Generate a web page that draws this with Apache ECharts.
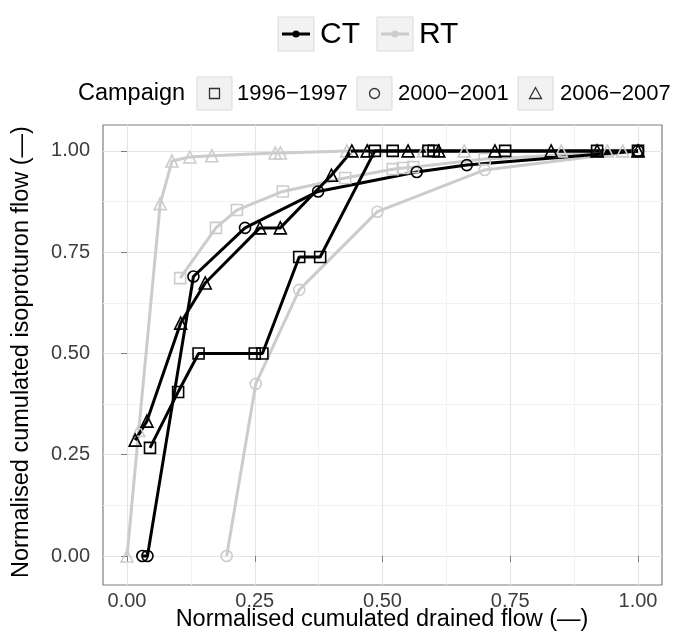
<!DOCTYPE html>
<html>
<head>
<meta charset="utf-8">
<script src="https://cdn.jsdelivr.net/npm/echarts@6/dist/echarts.min.js"></script>
<style>html,body{margin:0;padding:0;background:#fff}#c{width:675px;height:635px}</style>
</head>
<body>
<div id="c"></div>
<script>
// ---- data ----
var xTicks = [0, 0.25, 0.5, 0.75, 1];
var yTicks = [0, 0.25, 0.5, 0.75, 1];
var xTickLabels = ['0.00', '0.25', '0.50', '0.75', '1.00'];
var yTickLabels = ['0.00', '0.25', '0.50', '0.75', '1.00'];
var minorTicks = [0.125, 0.375, 0.625, 0.875];
var campaigns = ['1996\u22121997', '2000\u22122001', '2006\u22122007'];
var treatments = ['CT', 'RT'];

var ct1996X = [0.045, 0.10, 0.14, 0.25, 0.265, 0.337, 0.378, 0.485, 0.52, 0.59, 0.60, 0.74, 0.92, 1.0];
var ct1996Y = [0.267, 0.405, 0.50, 0.50, 0.50, 0.738, 0.738, 1.0, 1.0, 1.0, 1.0, 1.0, 1.0, 1.0];
var ct2000X = [0.03, 0.04, 0.13, 0.231, 0.374, 0.567, 0.665, 1.0];
var ct2000Y = [0.0, 0.0, 0.69, 0.81, 0.90, 0.948, 0.965, 1.0];
var ct2006X = [0.016, 0.039, 0.105, 0.153, 0.26, 0.30, 0.40, 0.44, 0.47, 0.55, 0.61, 0.72, 0.83, 0.92, 1.0];
var ct2006Y = [0.286, 0.333, 0.575, 0.674, 0.81, 0.81, 0.94, 1.0, 1.0, 1.0, 1.0, 1.0, 1.0, 1.0, 1.0];

var rt1996X = [0.104, 0.174, 0.215, 0.305, 0.427, 0.52, 0.54, 0.56, 0.70, 1.0];
var rt1996Y = [0.686, 0.81, 0.854, 0.90, 0.933, 0.955, 0.958, 0.96, 0.98, 1.0];
var rt2000X = [0.195, 0.252, 0.337, 0.49, 0.70, 1.0];
var rt2000Y = [0.0, 0.425, 0.657, 0.85, 0.953, 1.0];
var rt2006X = [0.0, 0.023, 0.065, 0.088, 0.123, 0.166, 0.29, 0.30, 0.43, 0.47, 0.58, 0.66, 0.85, 0.92, 0.94, 0.97, 1.0];
var rt2006Y = [0.0, 0.31, 0.87, 0.975, 0.985, 0.988, 0.995, 0.995, 1.0, 1.0, 1.0, 1.0, 1.0, 1.0, 1.0, 1.0, 1.0];

// ---- build ----
function pairs(xs, ys) { return xs.map(function (x, i) { return [x, ys[i]]; }); }
var CT_COL = '#000000', RT_COL = '#cccccc';
var SHAPES = ['rect', 'circle', 'triangle'];
var SIZES = [11, 11, 12];
function mk(name, xs, ys, col, k) {
  return {
    type: 'line', name: name, data: pairs(xs, ys),
    symbol: SHAPES[k], symbolSize: SIZES[k], showSymbol: true,
    lineStyle: { color: col, width: 3 },
    itemStyle: { color: 'rgba(0,0,0,0)', borderColor: col, borderWidth: 1.6 },
    emphasis: { disabled: true }, animation: false, z: 3
  };
}
var series = [
  mk('RT ' + campaigns[0], rt1996X, rt1996Y, RT_COL, 0),
  mk('RT ' + campaigns[1], rt2000X, rt2000Y, RT_COL, 1),
  mk('RT ' + campaigns[2], rt2006X, rt2006Y, RT_COL, 2),
  mk('CT ' + campaigns[0], ct1996X, ct1996Y, CT_COL, 0),
  mk('CT ' + campaigns[1], ct2000X, ct2000Y, CT_COL, 1),
  mk('CT ' + campaigns[2], ct2006X, ct2006Y, CT_COL, 2)
];

var FONT = 'Liberation Sans, Arial, sans-serif';
var gridL = 103, gridT = 125, gridR = 13, gridB = 50;

function axisCommon(ticks, labels, margin) {
  return {
    type: 'value',
    axisLine: { show: false },
    axisTick: { show: true, customValues: ticks, length: 6, lineStyle: { color: '#7f7f7f', width: 1 } },
    axisLabel: {
      customValues: ticks, fontSize: 20, color: '#3d3d3d', fontFamily: FONT, margin: margin,
      formatter: function (v) { var i = ticks.indexOf(v); return i >= 0 ? labels[i] : ''; }
    },
    splitLine: { show: true, lineStyle: { color: '#e5e5e5', width: 1.2 } }
  };
}
function minorAxis() {
  return {
    type: 'value', show: true,
    axisLine: { show: false },
    axisTick: { show: false, customValues: minorTicks },
    axisLabel: { show: false, customValues: minorTicks },
    splitLine: { show: true, lineStyle: { color: '#f2f2f2', width: 1 } }
  };
}

var xa = axisCommon(xTicks, xTickLabels, 6); xa.min = -0.047; xa.max = 1.047;
var ya = axisCommon(yTicks, yTickLabels, 13); ya.min = -0.0716; ya.max = 1.064;
var xm = minorAxis(); xm.min = -0.047; xm.max = 1.047; xm.position = 'bottom';
var ym = minorAxis(); ym.min = -0.0716; ym.max = 1.064; ym.position = 'left';

var graphics = [];
// axis titles
graphics.push({ type: 'text', x: 382, y: 620, style: { text: 'Normalised cumulated drained flow (\u2014)', font: '23.5px ' + FONT, fill: '#000', align: 'center', verticalAlign: 'middle' }, z: 10 });
graphics.push({ type: 'text', x: 22, y: 352, rotation: Math.PI / 2, style: { text: 'Normalised cumulated isoproturon flow (\u2014)', font: '23.5px ' + FONT, fill: '#000', align: 'center', verticalAlign: 'middle' }, z: 10 });

// legend row 1: treatment
var row1 = [{ x: 278, tx: 320, col: CT_COL }, { x: 377, tx: 419, col: RT_COL }];
row1.forEach(function (r, i) {
  graphics.push({ type: 'rect', shape: { x: r.x, y: 17, width: 36, height: 34 }, style: { fill: '#f2f2f2', stroke: '#d9d9d9', lineWidth: 1 }, z: 10 });
  graphics.push({ type: 'line', shape: { x1: r.x + 4, y1: 34, x2: r.x + 32, y2: 34 }, style: { stroke: r.col, lineWidth: 3 }, z: 11 });
  graphics.push({ type: 'circle', shape: { cx: r.x + 18, cy: 34, r: 3.5 }, style: { fill: r.col }, z: 12 });
  graphics.push({ type: 'text', x: r.tx, y: 35, style: { text: treatments[i], font: '30px ' + FONT, fill: '#000', verticalAlign: 'middle' }, z: 10 });
});
// legend row 2: campaign
graphics.push({ type: 'text', x: 78, y: 94, style: { text: 'Campaign', font: '23.5px ' + FONT, fill: '#000', verticalAlign: 'middle' }, z: 10 });
var row2 = [{ x: 197, tx: 237 }, { x: 357, tx: 398 }, { x: 518, tx: 560 }];
row2.forEach(function (r, i) {
  graphics.push({ type: 'rect', shape: { x: r.x, y: 77, width: 35, height: 33 }, style: { fill: '#f2f2f2', stroke: '#d9d9d9', lineWidth: 1 }, z: 10 });
  var cx = r.x + 17.5, cy = 93.5;
  if (i === 0) graphics.push({ type: 'rect', shape: { x: cx - 5, y: cy - 5, width: 10, height: 10 }, style: { fill: 'none', stroke: '#333', lineWidth: 1.3 }, z: 11 });
  if (i === 1) graphics.push({ type: 'circle', shape: { cx: cx, cy: cy, r: 5 }, style: { fill: 'none', stroke: '#333', lineWidth: 1.3 }, z: 11 });
  if (i === 2) graphics.push({ type: 'polygon', shape: { points: [[cx, cy - 6], [cx - 6, cy + 5], [cx + 6, cy + 5]] }, style: { fill: 'none', stroke: '#333', lineWidth: 1.3 }, z: 11 });
  graphics.push({ type: 'text', x: r.tx, y: 94, style: { text: campaigns[i], font: '22px ' + FONT, fill: '#000', verticalAlign: 'middle' }, z: 10 });
});

var chart = echarts.init(document.getElementById('c'), null, { renderer: 'canvas' });
chart.setOption({
  animation: false,
  backgroundColor: '#ffffff',
  grid: { left: gridL, top: gridT, right: gridR, bottom: gridB, show: true, borderColor: '#7f7f7f', borderWidth: 1.2, backgroundColor: '#fff', containLabel: false },
  xAxis: [xa, xm],
  yAxis: [ya, ym],
  series: series,
  graphic: graphics
});
</script>
</body>
</html>
